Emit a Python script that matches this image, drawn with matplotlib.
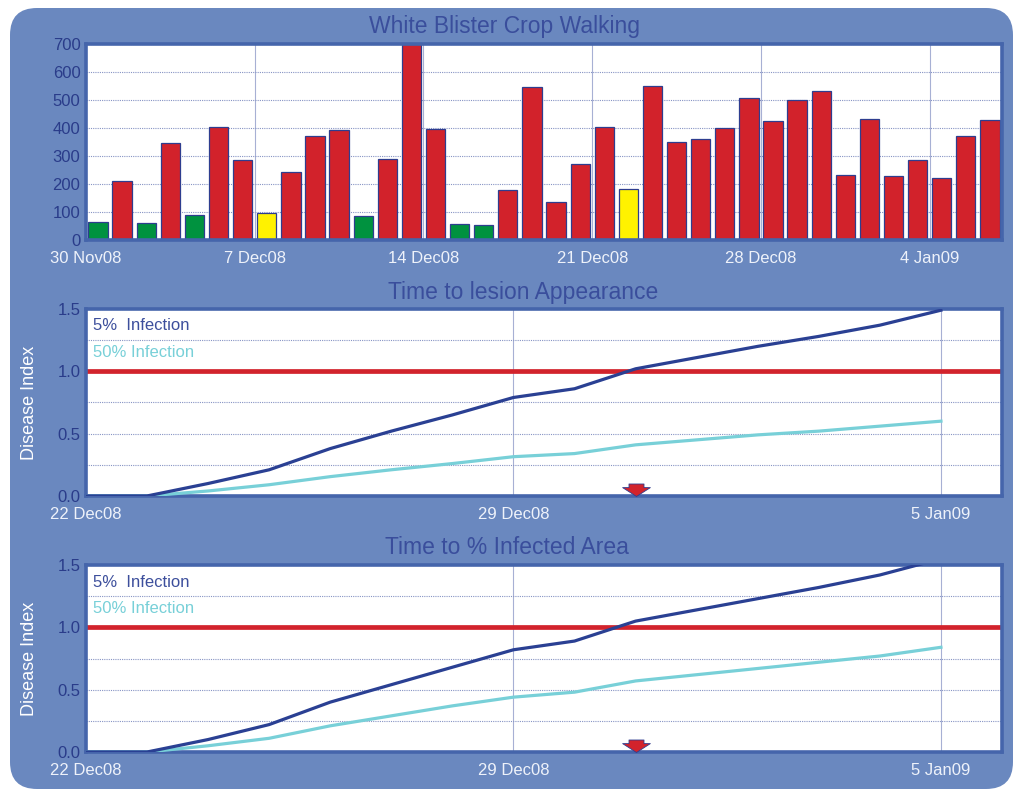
import numpy as np
import pandas as pd
import matplotlib
matplotlib.use('Agg')
import matplotlib.pyplot as plt
import matplotlib.dates as mdates
from matplotlib.patches import FancyBboxPatch
from matplotlib.path import Path
from matplotlib.transforms import IdentityTransform

#------------------------------------------------------------------------------
# DATA
#------------------------------------------------------------------------------

# crop walking counts, one bar per day from 30 Nov 2008
crop_dates = pd.date_range('2008-11-30', periods=38, freq='D')
crop_counts = [65, 210, 60, 345, 88, 403, 287, 98, 242, 370,
               392, 85, 288, 700, 398, 58, 55, 177, 548, 137,
               273, 403, 183, 551, 350, 360, 400, 507, 425, 500,
               533, 233, 433, 230, 285, 223, 372, 427]
crop_levels = ['low', 'high', 'low', 'high', 'low', 'high', 'high', 'mid', 'high', 'high',
               'high', 'low', 'high', 'high', 'high', 'low', 'low', 'high', 'high', 'high',
               'high', 'high', 'mid', 'high', 'high', 'high', 'high', 'high', 'high', 'high',
               'high', 'high', 'high', 'high', 'high', 'high', 'high', 'high']
crop_ticks = ['2008-11-30', '2008-12-07', '2008-12-14', '2008-12-21', '2008-12-28', '2009-01-04']

# disease index forecast, from 22 Dec 2008
fc_dates = pd.date_range('2008-12-22', periods=15, freq='D')
lesion_5 = [0, 0, 0.10, 0.21, 0.38, 0.52, 0.65, 0.79, 0.86, 1.02, 1.11, 1.20, 1.28, 1.37, 1.49]
lesion_50 = [0, 0, 0.04, 0.09, 0.155, 0.21, 0.26, 0.315, 0.34, 0.41, 0.45, 0.49, 0.52, 0.56, 0.60]
area_5 = [0, 0, 0.10, 0.22, 0.40, 0.54, 0.68, 0.82, 0.89, 1.05, 1.14, 1.23, 1.32, 1.42, 1.55]
area_50 = [0, 0, 0.05, 0.11, 0.21, 0.29, 0.37, 0.44, 0.48, 0.57, 0.62, 0.67, 0.72, 0.77, 0.84]
fc_ticks = ['2008-12-22', '2008-12-29', '2009-01-05']
threshold = 1.0
today = pd.Timestamp('2008-12-31')

#------------------------------------------------------------------------------
# STYLE
#------------------------------------------------------------------------------
plt.rcParams['font.family'] = ['Liberation Sans', 'DejaVu Sans']

BG = '#6a88bf'
SPINE = '#4565ab'
TITLE = '#3a4e9c'
YTICK = '#2a3c8a'
XTICK = '#eef2fa'
GRID = '#8794c4'
DARK = '#2a4093'
CYAN = '#78d0d8'
RED = '#d2232c'
level_colors = {'low': '#00923f', 'mid': '#fff200', 'high': '#d2222b'}

# down arrow marker for "today"
arrow = Path([(0, 0), (1, 0.64), (0.54, 0.64), (0.54, 0.9), (-0.54, 0.9),
              (-0.54, 0.64), (-1, 0.64), (0, 0)],
             [Path.MOVETO] + [Path.LINETO] * 6 + [Path.CLOSEPOLY])

fig = plt.figure(figsize=(10.15, 7.9), dpi=100)
fig.patch.set_facecolor('white')
fig.patches.append(FancyBboxPatch((10, 1), 1003, 781, boxstyle='round,pad=0,rounding_size=27',
                                  transform=IdentityTransform(), facecolor=BG,
                                  edgecolor='none', zorder=-10, figure=fig))


def style_axes(ax):
    ax.set_facecolor('white')
    for s in ax.spines.values():
        s.set_color(SPINE)
        s.set_linewidth(2.6)
    ax.tick_params(length=0, labelsize=12)
    ax.tick_params(axis='y', colors=YTICK, pad=4)
    ax.tick_params(axis='x', colors=XTICK, pad=8)
    ax.set_axisbelow(True)


#------------------------------------------------------------------------------
# 1. CROP WALKING BARS
#------------------------------------------------------------------------------
ax1 = fig.add_axes([0.0847, 0.6962, 0.9025, 0.2481])
style_axes(ax1)
ax1.bar(crop_dates + pd.Timedelta(hours=12), crop_counts, width=0.8,
        color=[level_colors[l] for l in crop_levels], edgecolor='#2e3d8f', linewidth=0.9)
ax1.set_ylim(0, 700)
ax1.set_yticks(np.arange(0, 701, 100))
ax1.set_xlim(crop_dates[0], crop_dates[-1] + pd.Timedelta(days=1))
ax1.set_xticks(pd.to_datetime(crop_ticks))
ax1.xaxis.set_major_formatter(mdates.DateFormatter('%-d %b%y'))
ax1.grid(axis='y', ls=(0, (1, 1)), lw=0.8, color=GRID)
ax1.grid(axis='x', ls='-', lw=0.8, color='#a7b0d4')
fig.text(0.4975, 0.966, 'White Blister Crop Walking', ha='center', va='center',
         fontsize=16.5, color=TITLE)


#------------------------------------------------------------------------------
# 2./3. DISEASE INDEX PANELS
#------------------------------------------------------------------------------
def disease_panel(rect, title, title_x, title_y, five, fifty):
    ax = fig.add_axes(rect)
    style_axes(ax)
    ax.axhline(threshold, color=RED, lw=3.4, zorder=2)
    ax.plot(fc_dates, fifty, color=CYAN, lw=2.3, zorder=3)
    ax.plot(fc_dates, five, color=DARK, lw=2.3, zorder=4)
    ax.plot([today], [0.0], marker=arrow, markersize=20, color=RED,
            markeredgecolor='#2e3d8f', markeredgewidth=0.6, clip_on=False, zorder=5)
    ax.set_ylim(0, 1.5)
    ax.set_yticks([0, 0.5, 1.0, 1.5])
    ax.set_yticks([0.25, 0.75, 1.25], minor=True)
    ax.yaxis.set_major_formatter(matplotlib.ticker.FormatStrFormatter('%.1f'))
    ax.tick_params(which='minor', length=0)
    ax.set_xlim(fc_dates[0], fc_dates[-1] + pd.Timedelta(days=1))
    ax.set_xticks(pd.to_datetime(fc_ticks))
    ax.xaxis.set_major_formatter(mdates.DateFormatter('%-d %b%y'))
    ax.grid(axis='y', which='both', ls=(0, (1, 1)), lw=0.8, color=GRID)
    ax.grid(axis='x', ls='-', lw=0.8, color='#a7b0d4')
    ax.set_ylabel('Disease Index', color='white', fontsize=13)
    ax.yaxis.set_label_coords(-0.052, 0.5)
    ax.text(0.0076, 0.909, '5%  Infection', transform=ax.transAxes, color='#3d4f9c',
            fontsize=12, va='center', ha='left')
    ax.text(0.0076, 0.765, '50% Infection', transform=ax.transAxes, color=CYAN,
            fontsize=12, va='center', ha='left')
    fig.text(title_x, title_y, title, ha='center', va='center', fontsize=16.5, color=TITLE)
    return ax


ax2 = disease_panel([0.0847, 0.3722, 0.9025, 0.2367], 'Time to lesion Appearance',
                    0.515, 0.630, lesion_5, lesion_50)
ax3 = disease_panel([0.0847, 0.0481, 0.9025, 0.2367], 'Time to % Infected Area',
                    0.4995, 0.3065, area_5, area_50)

fig.savefig('out.png', dpi=100, facecolor=fig.get_facecolor())
